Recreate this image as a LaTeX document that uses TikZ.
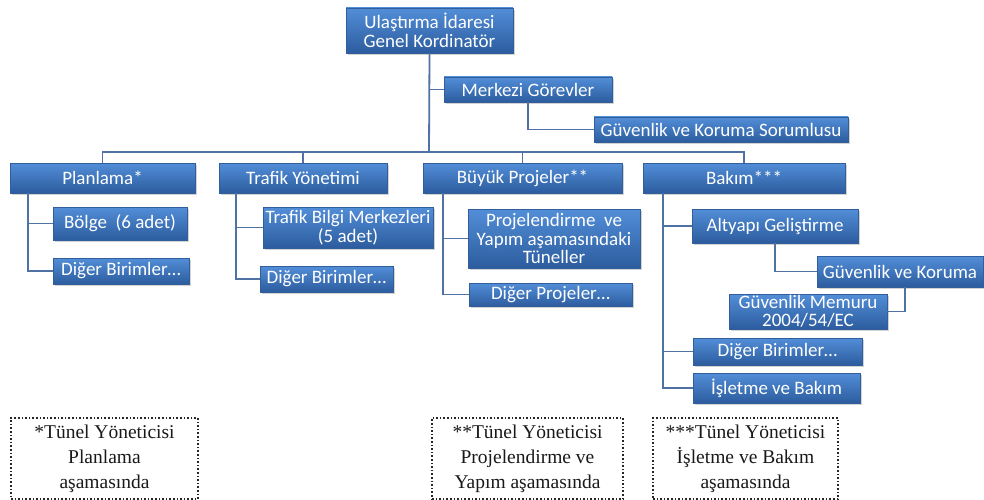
\documentclass[tikz,border=0pt]{standalone}
\usepackage{fontspec}
\setmainfont{Carlito}
\newfontfamily\notefont{Liberation Serif}
\usetikzlibrary{shadows}
\definecolor{boxtop}{RGB}{82,142,216}
\definecolor{boxbot}{RGB}{44,92,158}
\definecolor{boxline}{RGB}{50,95,155}
\definecolor{conn}{RGB}{79,113,163}
\tikzset{
  bluebox/.style={draw=boxline, line width=0.6pt, top color=boxtop, bottom color=boxbot,
    text=white, align=center, inner sep=0pt, anchor=center,
    font=\fontsize{19}{18.5}\selectfont,
    drop shadow={opacity=0.35, shadow xshift=1.5pt, shadow yshift=-2pt}},
  notebox/.style={draw=black!85, dotted, line width=1.6pt, align=center, anchor=center,
    font=\notefont\fontsize{19.5}{25}\selectfont, text=black!90},
  link/.style={draw=conn, line width=1.8pt}
}
\begin{document}
\begin{tikzpicture}[x=1pt,y=-1pt]
\useasboundingbox[fill=white] (0,0) rectangle (984,500);
% top
\node[bluebox, minimum width=167pt, minimum height=45pt] (top) at (429.5,30.5) {Ulaştırma İdaresi\\Genel Kordinatör};
\node[bluebox, minimum width=168pt, minimum height=25pt] (merk) at (528,89.5) {Merkezi Görevler};
\node[bluebox, minimum width=254pt, minimum height=25pt] (guv1) at (721,129.5) {Güvenlik ve Koruma Sorumlusu};
% level 2
\node[bluebox, minimum width=185pt, minimum height=30pt] (plan) at (102.5,178) {Planlama*};
\node[bluebox, minimum width=168pt, minimum height=30pt] (traf) at (303,178) {Trafik Yönetimi};
\node[bluebox, minimum width=199pt, minimum height=30pt] (buyuk) at (522.5,178) {Büyük Projeler**};
\node[bluebox, minimum width=202pt, minimum height=30pt] (bakim) at (744,178) {Bakım***};
% planlama children
\node[bluebox, minimum width=134pt, minimum height=33pt] (bolge) at (120,223.5) {Bölge~ (6 adet)};
\node[bluebox, minimum width=136pt, minimum height=26pt] (dig1) at (121,271) {Diğer Birimler…};
% trafik children
\node[bluebox, minimum width=170pt, minimum height=41pt] (tbm) at (348,227.5) {Trafik Bilgi Merkezleri\\(5 adet)};
\node[bluebox, minimum width=133pt, minimum height=26pt] (dig2) at (326.5,279) {Diğer Birimler…};
% buyuk children
\node[bluebox, minimum width=172pt, minimum height=59pt] (proj) at (554,238.5) {Projelendirme~ ve\\Yapım aşamasındaki\\Tüneller};
\node[bluebox, minimum width=163pt, minimum height=23pt] (digp) at (550.5,294.5) {Diğer Projeler…};
% bakim children
\node[bluebox, minimum width=166pt, minimum height=34pt] (alt) at (775,226) {Altyapı Geliştirme};
\node[bluebox, minimum width=166pt, minimum height=31pt] (guv2) at (900,271.5) {Güvenlik ve Koruma};
\node[bluebox, minimum width=158pt, minimum height=35pt] (mem) at (808,311.5) {Güvenlik Memuru\\2004/54/EC};
\node[bluebox, minimum width=169pt, minimum height=27pt] (dig3) at (777.5,351.5) {Diğer Birimler…};
\node[bluebox, minimum width=167pt, minimum height=30pt] (islet) at (776.5,388) {İşletme ve Bakım};
% notes
\node[notebox, minimum width=187pt, minimum height=81pt] (n1) at (104.5,458.5) {*Tünel Yöneticisi\\Planlama\\aşamasında};
\node[notebox, minimum width=191pt, minimum height=81pt] (n2) at (527.5,458.5) {**Tünel Yöneticisi\\Projelendirme ve\\Yapım aşamasında};
\node[notebox, minimum width=185pt, minimum height=81pt] (n3) at (745.5,458.5) {***Tünel Yöneticisi\\İşletme ve Bakım\\aşamasında};
% connectors
\coordinate (bus) at (429,152);
\draw[link] (top.south) -- (bus);
\draw[link] (top.south) |- (merk.west);
\draw[link] (merk.south) |- (guv1.west);
\draw[link] (plan.north) |- (bus) -| (bakim.north);
\draw[link] (traf.north) -- (traf.north |- bus);
\draw[link] (buyuk.north) -- (buyuk.north |- bus);
\draw[link] ([xshift=18pt]plan.south west) |- (bolge.west);
\draw[link] ([xshift=18pt]plan.south west) |- (dig1.west);
\draw[link] ([xshift=17pt]traf.south west) |- (tbm.west);
\draw[link] ([xshift=17pt]traf.south west) |- (dig2.west);
\draw[link] ([xshift=20pt]buyuk.south west) |- (proj.west);
\draw[link] ([xshift=20pt]buyuk.south west) |- (digp.west);
\draw[link] ([xshift=20pt]bakim.south west) |- (alt.west);
\draw[link] ([xshift=20pt]bakim.south west) |- (dig3.west);
\draw[link] ([xshift=20pt]bakim.south west) |- (islet.west);
\draw[link] (alt.south) |- (guv2.west);
\draw[link] ([xshift=5pt]guv2.south) |- (mem.east);
\end{tikzpicture}
\end{document}
